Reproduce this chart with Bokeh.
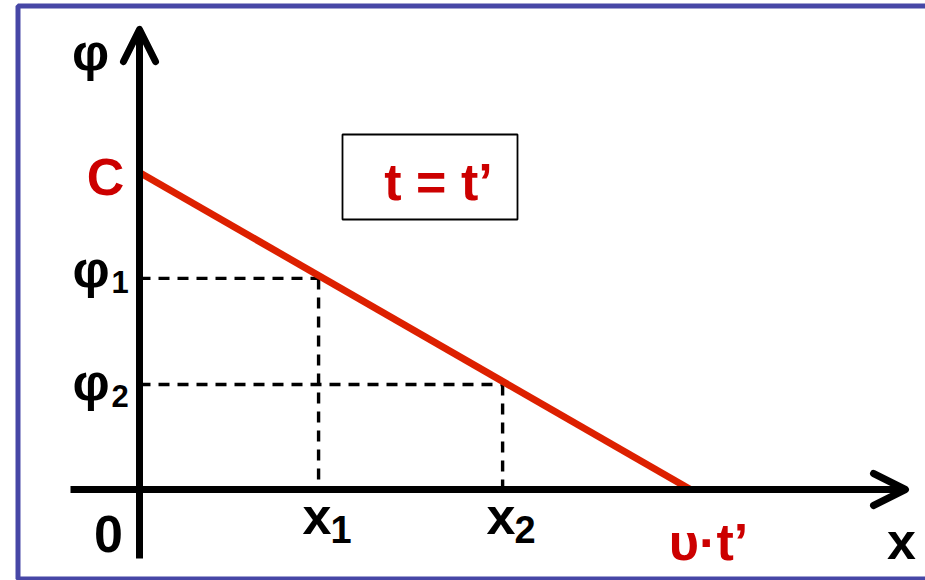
from bokeh.plotting import figure
from bokeh.models import Arrow, OpenHead, BoxAnnotation, Range1d
from bokeh.core.properties import value
from bokeh.embed import file_html
from bokeh.resources import INLINE

# Potential falls linearly from C at x = 0 to zero at x = u*t'
line_x = [0.0, 1.0]          # 0 .. u*t'
line_phi = [1.0, 0.0]        # C .. 0
x_marks = [0.325, 0.659]     # x1, x2
phi_marks = [0.666, 0.331]   # phi1, phi2
x_names = ["x", "x"]
x_subs = ["1", "2"]
phi_subs = ["1", "2"]

W, H = 925, 580
# pixel geometry of the drawing
OX, OY = 139, 489            # origin in page pixels
SX, SY = 551, 317            # pixels per data unit
LIFT = 17                    # baseline correction for the svg text


def ux(px):
    """page pixel column -> data x"""
    return (px - OX) / SX


def uy(py):
    """page pixel row -> data y"""
    return (OY - py) / SY


p = figure(width=W, height=H, output_backend="svg", toolbar_location=None,
           x_range=Range1d(ux(0), ux(W)), y_range=Range1d(uy(H), uy(0)),
           min_border=0, min_border_left=0, min_border_right=0,
           min_border_top=0, min_border_bottom=0)
p.axis.visible = False
p.grid.visible = False
p.outline_line_color = None
p.background_fill_color = "white"
p.border_fill_color = "white"

RED_LINE = "#dd2000"
RED_TEXT = "#cc0000"
FONT = value("Liberation Sans")

# frame around the slide
p.add_layout(BoxAnnotation(left=ux(17.5), right=ux(980), top=uy(5.5), bottom=uy(578.5),
                           fill_alpha=0, line_color="#4747a6", line_alpha=1, line_width=5,
                           level="underlay"))

# box with the time label
p.add_layout(BoxAnnotation(left=ux(342), right=ux(517), top=uy(134), bottom=uy(219),
                           fill_color="white", fill_alpha=1, line_color="black",
                           line_alpha=1, line_width=1.8, level="underlay"))

# dashed guides from the axes to the line
for xv, pv in zip(x_marks, phi_marks):
    p.line([0, xv], [pv, pv], line_color="black", line_width=3.4, line_dash="11 8")
    p.line([xv, xv], [pv, 0], line_color="black", line_width=3.4, line_dash="11 8")

# axes with open arrow heads
p.add_layout(Arrow(end=OpenHead(size=32, line_width=7, line_color="black",
                                line_cap="round", line_join="round"),
                   x_start=0, y_start=uy(558), x_end=0, y_end=uy(29),
                   line_width=7, line_color="black"))
p.add_layout(Arrow(end=OpenHead(size=32, line_width=7, line_color="black",
                                line_cap="round", line_join="round"),
                   x_start=ux(70), y_start=0, x_end=ux(905), y_end=0,
                   line_width=7, line_color="black"))

# the potential profile
p.line(line_x, line_phi, line_color=RED_LINE, line_width=7)


def label(txt, x, y, size, color="black", align="left"):
    p.text(x=[x], y=[y + LIFT / SY], text=[txt], text_font=FONT, text_font_style="bold",
           text_font_size=f"{size}px", text_color=color, text_align=align,
           text_baseline="alphabetic")


MAIN = 52
SUB_X = 38
SUB_P = 31

# axis names
label("φ", ux(90), uy(68), MAIN, align="center")
label("x", ux(901), uy(557), MAIN, align="center")
label("0", ux(108), uy(550), MAIN, align="center")

# value at the origin and the zero crossing
label("C", 0 + ux(105) - ux(OX), line_phi[0] + uy(193) - uy(172), 52, RED_TEXT, "center")
label("υ·t’", line_x[1] + ux(708) - ux(690), uy(558), 52, RED_TEXT, "center")

# x1, x2 tick names
for xv, name, sub in zip(x_marks, x_names, x_subs):
    xp = OX + xv * SX
    label(name, ux(xp - 16), uy(532), MAIN)
    label(sub, ux(xp + 12), uy(546), SUB_X)

# phi1, phi2 tick names
for pv, sub, base, sbase in zip(phi_marks, phi_subs, [285, 398], [298, 412]):
    label("φ", ux(72), uy(base), MAIN)
    label(sub, ux(111), uy(sbase), SUB_P)

# time label inside the box
label("t = t’", ux(438), uy(198), 52, RED_TEXT, "center")

open("out.html", "w").write(file_html(p, INLINE))
